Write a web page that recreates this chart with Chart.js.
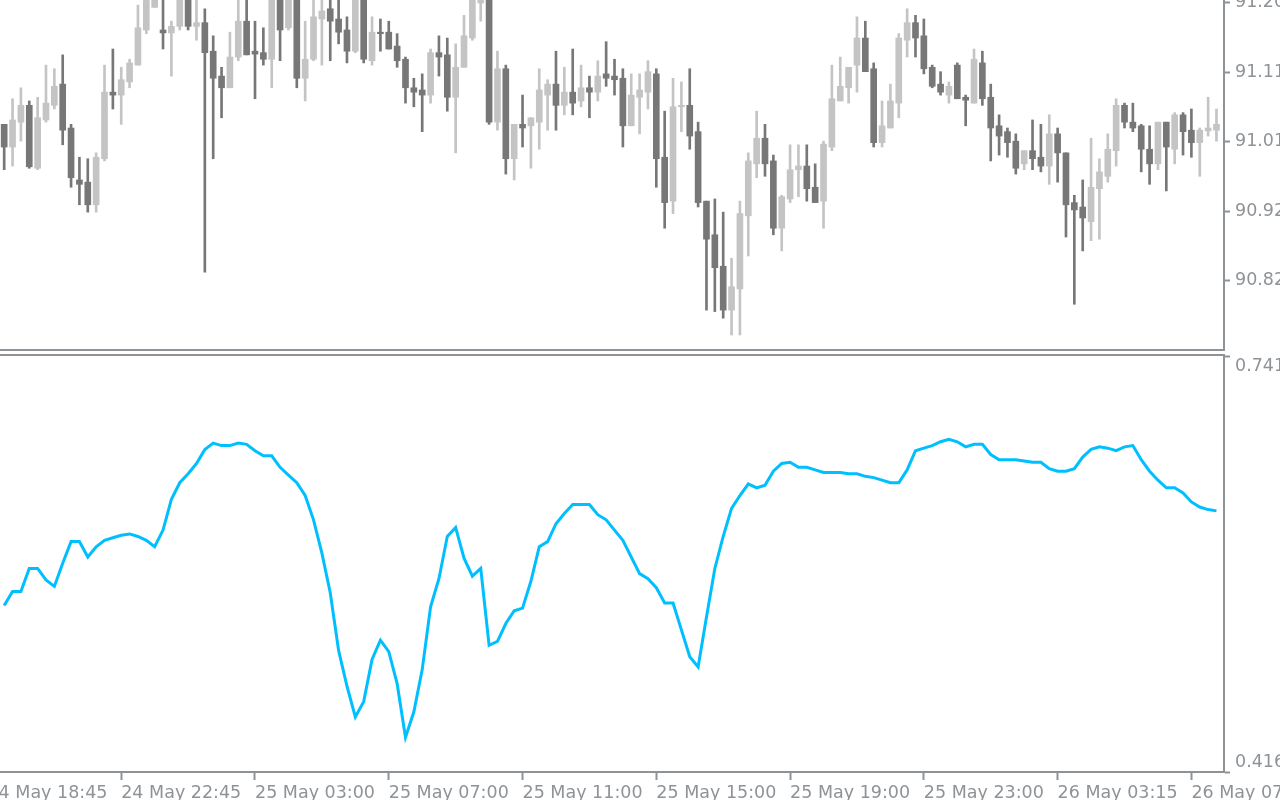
<!DOCTYPE html>
<html>
<head>
<meta charset="utf-8">
<script src="https://cdn.jsdelivr.net/npm/chart.js@4.4.0/dist/chart.umd.min.js"></script>
<style>
  html, body { margin: 0; padding: 0; background: #fff; overflow: hidden; }
  #wrap { position: relative; width: 1280px; height: 800px; }
  canvas { position: absolute; left: 0; }
  #priceChart { top: 0; }
  #oscChart { top: 350px; }
</style>
</head>
<body>
<div id="wrap">
  <canvas id="oscChart" width="1280" height="450"></canvas>
  <canvas id="priceChart" width="1280" height="352"></canvas>
</div>
<script>
const AXIS_COLOR = '#8e9398';
const TEXT_FONT = { family: 'DejaVu Sans', size: 17.5 };
const BULL = '#c4c4c4';
const BEAR = '#777777';
const LINE = '#00bfff';

// 15 minute bars
const open = [
  91.039, 91.008, 91.042, 91.065, 90.979, 91.045, 91.065, 91.094, 91.034, 90.963,
  90.960, 90.929, 90.992, 91.083, 91.079, 91.097, 91.120, 91.168, 91.199, 91.168,
  91.164, 91.173, 91.209, 91.173, 91.178, 91.139, 91.105, 91.089, 91.131, 91.180,
  91.139, 91.137, 91.128, 91.213, 91.171, 91.216, 91.102, 91.128, 91.183, 91.197,
  91.183, 91.168, 91.139, 91.213, 91.126, 91.165, 91.165, 91.146, 91.128, 91.089,
  91.086, 91.079, 91.137, 91.134, 91.076, 91.117, 91.157, 91.205, 91.213, 91.042,
  91.115, 90.992, 91.039, 91.037, 91.042, 91.079, 91.094, 91.065, 91.083, 91.071,
  91.089, 91.083, 91.108, 91.105, 91.102, 91.037, 91.076, 91.083, 91.108, 90.994,
  90.934, 91.063, 91.065, 91.029, 90.934, 90.888, 90.845, 90.785, 90.814, 90.914,
  90.985, 91.020, 90.989, 90.897, 90.937, 90.977, 90.982, 90.953, 90.934, 91.008,
  91.071, 91.089, 91.120, 91.157, 91.115, 91.014, 91.034, 91.068, 91.154, 91.178,
  91.160, 91.117, 91.094, 91.079, 91.120, 91.076, 91.068, 91.123, 91.076, 91.037,
  91.029, 91.016, 90.985, 91.003, 90.994, 90.982, 91.026, 91.000, 90.932, 90.926,
  90.906, 90.951, 90.968, 91.003, 91.065, 91.042, 91.037, 91.005, 90.985, 91.042,
  91.005, 91.052, 91.031, 91.014, 91.030, 91.031
];
const high = [
  91.039, 91.074, 91.089, 91.071, 91.076, 91.120, 91.115, 91.134, 91.039, 90.994,
  90.992, 91.000, 91.120, 91.142, 91.117, 91.128, 91.202, 91.223, 91.223, 91.216,
  91.180, 91.216, 91.216, 91.209, 91.197, 91.160, 91.117, 91.165, 91.213, 91.216,
  91.180, 91.171, 91.223, 91.220, 91.223, 91.223, 91.180, 91.213, 91.213, 91.209,
  91.209, 91.186, 91.223, 91.220, 91.186, 91.183, 91.180, 91.163, 91.131, 91.102,
  91.108, 91.142, 91.160, 91.157, 91.149, 91.188, 91.220, 91.223, 91.220, 91.139,
  91.120, 91.039, 91.079, 91.048, 91.115, 91.100, 91.139, 91.117, 91.142, 91.120,
  91.105, 91.126, 91.152, 91.128, 91.115, 91.108, 91.108, 91.126, 91.115, 91.057,
  91.102, 91.097, 91.115, 91.042, 90.934, 90.937, 90.919, 90.856, 90.934, 91.000,
  91.057, 91.039, 90.997, 90.942, 91.011, 91.011, 91.011, 90.985, 91.016, 91.120,
  91.131, 91.117, 91.186, 91.180, 91.123, 91.071, 91.094, 91.163, 91.197, 91.188,
  91.183, 91.120, 91.111, 91.097, 91.123, 91.079, 91.142, 91.139, 91.094, 91.052,
  91.034, 91.026, 91.003, 91.045, 91.039, 91.052, 91.034, 91.000, 90.942, 90.963,
  91.020, 90.992, 91.026, 91.074, 91.068, 91.068, 91.039, 91.037, 91.042, 91.042,
  91.055, 91.055, 91.060, 91.034, 91.076, 91.060
];
const low = [
  90.977, 90.982, 91.016, 90.979, 90.977, 91.042, 91.060, 91.011, 90.953, 90.929,
  90.919, 90.919, 90.989, 91.060, 91.039, 91.089, 91.120, 91.163, 91.199, 91.142,
  91.105, 91.168, 91.168, 91.154, 90.837, 90.992, 91.048, 91.089, 91.126, 91.134,
  91.074, 91.120, 91.089, 91.126, 91.168, 91.089, 91.071, 91.126, 91.120, 91.126,
  91.149, 91.123, 91.137, 91.123, 91.120, 91.139, 91.142, 91.117, 91.068, 91.063,
  91.029, 91.068, 91.105, 91.057, 91.000, 91.117, 91.154, 91.180, 91.039, 91.031,
  90.971, 90.963, 91.008, 90.979, 91.005, 91.031, 91.031, 91.052, 91.052, 91.063,
  91.048, 91.071, 91.091, 91.079, 91.008, 91.037, 91.026, 91.060, 90.953, 90.897,
  90.917, 91.029, 91.005, 90.926, 90.785, 90.783, 90.774, 90.751, 90.751, 90.859,
  90.966, 90.968, 90.888, 90.866, 90.932, 90.940, 90.934, 90.932, 90.897, 91.003,
  91.071, 91.068, 91.083, 91.111, 91.008, 91.008, 91.034, 91.048, 91.131, 91.131,
  91.108, 91.089, 91.079, 91.068, 91.074, 91.037, 91.068, 91.065, 90.989, 90.997,
  90.994, 90.971, 90.977, 90.977, 90.974, 90.957, 90.960, 90.885, 90.793, 90.866,
  90.880, 90.882, 90.960, 90.982, 91.034, 91.029, 90.974, 90.957, 90.977, 90.948,
  90.985, 90.997, 90.994, 90.968, 91.023, 91.016
];
const close = [
  91.008, 91.045, 91.065, 90.981, 91.048, 91.068, 91.091, 91.031, 90.966, 90.957,
  90.929, 90.994, 91.083, 91.079, 91.100, 91.123, 91.171, 91.213, 91.214, 91.164,
  91.173, 91.209, 91.173, 91.178, 91.137, 91.102, 91.089, 91.131, 91.180, 91.134,
  91.135, 91.128, 91.216, 91.168, 91.216, 91.102, 91.128, 91.186, 91.194, 91.180,
  91.165, 91.139, 91.216, 91.128, 91.165, 91.163, 91.142, 91.126, 91.089, 91.083,
  91.079, 91.137, 91.131, 91.076, 91.117, 91.160, 91.209, 91.213, 91.042, 91.115,
  90.992, 91.039, 91.034, 91.048, 91.086, 91.094, 91.065, 91.083, 91.068, 91.089,
  91.083, 91.105, 91.102, 91.100, 91.037, 91.079, 91.086, 91.111, 90.992, 90.932,
  91.063, 91.065, 91.023, 90.932, 90.882, 90.843, 90.785, 90.817, 90.917, 90.989,
  91.020, 90.985, 90.897, 90.940, 90.977, 90.982, 90.951, 90.932, 91.012, 91.074,
  91.091, 91.117, 91.157, 91.111, 91.014, 91.037, 91.071, 91.157, 91.178, 91.157,
  91.115, 91.091, 91.083, 91.091, 91.074, 91.072, 91.128, 91.074, 91.034, 91.023,
  91.014, 90.979, 91.003, 90.992, 90.982, 91.026, 91.000, 90.929, 90.922, 90.911,
  90.953, 90.974, 91.005, 91.065, 91.042, 91.034, 91.005, 90.985, 91.042, 91.008,
  91.052, 91.029, 91.014, 91.031, 91.034, 91.039
];
// indicator in the lower pane
const osc = [
  0.546, 0.557, 0.557, 0.575, 0.575, 0.566, 0.561, 0.579, 0.596, 0.596,
  0.584, 0.592, 0.597, 0.599, 0.601, 0.602, 0.600, 0.597, 0.592, 0.605,
  0.629, 0.642, 0.649, 0.657, 0.668, 0.673, 0.671, 0.671, 0.673, 0.672,
  0.667, 0.663, 0.663, 0.654, 0.648, 0.642, 0.632, 0.613, 0.587, 0.556,
  0.511, 0.483, 0.459, 0.471, 0.504, 0.519, 0.510, 0.485, 0.443, 0.463,
  0.496, 0.545, 0.567, 0.600, 0.607, 0.583, 0.569, 0.575, 0.515, 0.518,
  0.532, 0.542, 0.544, 0.565, 0.592, 0.596, 0.610, 0.618, 0.625, 0.625,
  0.625, 0.617, 0.613, 0.605, 0.597, 0.584, 0.571, 0.567, 0.560, 0.548,
  0.548, 0.527, 0.506, 0.498, 0.537, 0.575, 0.600, 0.622, 0.632, 0.641,
  0.638, 0.640, 0.651, 0.657, 0.658, 0.654, 0.654, 0.652, 0.650, 0.650,
  0.650, 0.649, 0.649, 0.647, 0.646, 0.644, 0.642, 0.642, 0.652, 0.667,
  0.669, 0.671, 0.674, 0.676, 0.674, 0.670, 0.672, 0.672, 0.664, 0.660,
  0.660, 0.660, 0.659, 0.658, 0.658, 0.653, 0.651, 0.651, 0.653, 0.662,
  0.668, 0.670, 0.669, 0.667, 0.670, 0.671, 0.660, 0.651, 0.644, 0.638,
  0.638, 0.634, 0.627, 0.623, 0.621, 0.620
];

const priceTicks = [90.825, 90.920, 91.015, 91.110, 91.205];
const priceMin = 90.7305;
const priceMax = 91.209;
const oscMin = 0.416;
const oscMax = 0.741;
const timeTickIdx = [-2, 14, 30, 46, 62, 78, 94, 110, 126, 142];
const timeTickLabels = ['24 May 18:45', '24 May 22:45', '25 May 03:00', '25 May 07:00', '25 May 11:00',
  '25 May 15:00', '25 May 19:00', '25 May 23:00', '26 May 03:15', '26 May 07:15'];

const xMin = -0.5, xMax = 145.9;
const AXIS_W = 56;

function fixYAxis(a) {
  a.width = AXIS_W;
  a.paddingTop = 0; a.paddingBottom = 0; a.paddingLeft = 0; a.paddingRight = 0;
}

const idx = open.map((_, i) => i);
const candleColors = idx.map(i => close[i] >= open[i] ? BULL : BEAR);

const gridOpts = { drawOnChartArea: false, drawTicks: true, tickWidth: 2, tickColor: AXIS_COLOR, color: AXIS_COLOR };
const borderOpts = { display: true, color: AXIS_COLOR, width: 2 };

// === PRICE PANE ===
new Chart(document.getElementById('priceChart'), {
  type: 'bar',
  data: {
    datasets: [
      { data: idx.map(i => ({ x: i, y: [open[i], close[i]] })), backgroundColor: candleColors, barThickness: 6, order: 0 },
      { data: idx.map(i => ({ x: i, y: [low[i], high[i]] })), backgroundColor: candleColors, barThickness: 2, order: 1 }
    ]
  },
  options: {
    responsive: false,
    animation: false,
    layout: { padding: 0 },
    datasets: { bar: { grouped: false, borderWidth: 0 } },
    plugins: { legend: { display: false }, tooltip: { enabled: false } },
    scales: {
      x: {
        type: 'linear', min: xMin, max: xMax, offset: false,
        ticks: { display: false },
        grid: { display: false },
        border: borderOpts,
        afterFit: a => { a.height = 2; a.paddingLeft = 0; a.paddingRight = 0; }
      },
      y: {
        position: 'right', min: priceMin, max: priceMax,
        afterBuildTicks: a => { a.ticks = priceTicks.map(v => ({ value: v })); },
        afterFit: fixYAxis,
        ticks: { color: AXIS_COLOR, font: TEXT_FONT, padding: 5, callback: v => v.toFixed(3) },
        grid: { ...gridOpts, tickLength: 6 },
        border: borderOpts
      }
    }
  }
});

// top border of the lower pane + its two value labels
const paneDecor = {
  id: 'paneDecor',
  afterDraw(chart) {
    const { ctx, chartArea, scales } = chart;
    ctx.save();
    ctx.strokeStyle = AXIS_COLOR;
    ctx.lineWidth = 2;
    ctx.beginPath();
    ctx.moveTo(0, chartArea.top - 1);
    ctx.lineTo(chartArea.right + 1, chartArea.top - 1);
    ctx.stroke();
    ctx.fillStyle = AXIS_COLOR;
    ctx.font = TEXT_FONT.size + 'px "' + TEXT_FONT.family + '"';
    ctx.textAlign = 'left';
    ctx.textBaseline = 'middle';
    const y = scales.y;
    ctx.fillText(oscMax.toFixed(3), y.left + 11, y.getPixelForValue(oscMax) + 10);
    ctx.fillText(oscMin.toFixed(3), y.left + 11, y.getPixelForValue(oscMin) - 10);
    ctx.restore();
  }
};

// === INDICATOR PANE ===
new Chart(document.getElementById('oscChart'), {
  type: 'line',
  data: {
    datasets: [{
      data: idx.map(i => ({ x: i, y: osc[i] })),
      borderColor: LINE, borderWidth: 3, pointRadius: 0, tension: 0, fill: false
    }]
  },
  options: {
    responsive: false,
    animation: false,
    layout: { padding: { top: 6, left: 0, right: 0, bottom: 0 } },
    plugins: { legend: { display: false }, tooltip: { enabled: false } },
    scales: {
      x: {
        type: 'linear', min: xMin, max: xMax,
        afterBuildTicks: a => { a.ticks = timeTickIdx.map(v => ({ value: v })); },
        afterFit: a => { a.height = 28; a.paddingLeft = 0; a.paddingRight = 0; },
        ticks: {
          autoSkip: false, maxRotation: 0, align: 'start', padding: 3,
          color: AXIS_COLOR, font: TEXT_FONT,
          callback: (v, i) => timeTickLabels[i]
        },
        grid: { ...gridOpts, tickLength: 8 },
        border: borderOpts
      },
      y: {
        position: 'right', min: oscMin, max: oscMax,
        afterBuildTicks: a => { a.ticks = [oscMin, oscMax].map(v => ({ value: v })); },
        afterFit: fixYAxis,
        ticks: { display: false },
        grid: { ...gridOpts, tickLength: 6 },
        border: borderOpts
      }
    }
  },
  plugins: [paneDecor]
});
</script>
</body>
</html>
